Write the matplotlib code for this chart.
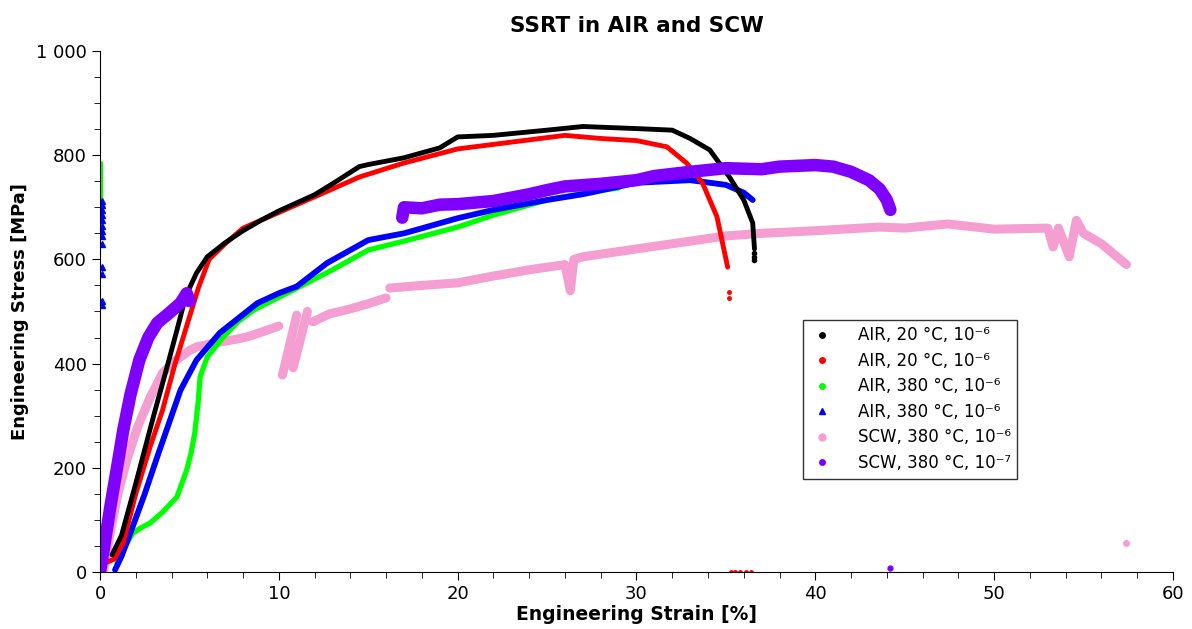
import numpy as np
import matplotlib
matplotlib.use("Agg")
import matplotlib.pyplot as plt
from matplotlib.lines import Line2D
from matplotlib.ticker import MultipleLocator, FuncFormatter

# AIR, 20 C (black)
black_x = [0.67, 1.2, 2.0, 3.0, 3.8, 4.3, 4.8, 5.4, 6.0, 7.0, 8.0, 9.0, 10.0, 12.0, 13.0, 14.5, 15.0,
           17.0, 19.0, 20.0, 22.0, 25.0, 27.0, 30.0, 32.0, 33.0, 34.1, 35.2, 36.0, 36.5, 36.6]
black_y = [33, 70, 170, 300, 400, 464, 530, 574, 605, 632, 655, 675, 693, 724, 745, 778, 782,
           795, 814, 835, 838, 848, 855, 851, 848, 832, 810, 758, 714, 670, 620]
black_tail_x = [36.6, 36.6, 36.6]
black_tail_y = [612, 605, 598]

# AIR, 20 C (red)
red_x = [0.4, 0.8, 1.3, 2.0, 2.8, 3.5, 4.2, 4.9, 5.5, 6.1, 7.0, 8.0, 10.0, 12.0, 14.5, 17.0, 20.0,
         23.0, 26.0, 28.0, 30.0, 31.7, 32.8, 33.7, 34.5, 35.1]
red_y = [19, 25, 56, 150, 240, 311, 400, 478, 545, 600, 630, 660, 690, 720, 758, 785, 812,
         825, 838, 832, 828, 816, 785, 746, 682, 585]
red_tail_x = [35.2, 35.2, 35.3, 35.5, 35.8, 36.1, 36.4]
red_tail_y = [537, 525, 0, 0, 0, 0, 0]

# AIR, 380 C (green)
green_x = [0.95, 1.4, 1.85, 2.3, 2.8, 3.5, 4.3, 4.85, 5.1, 5.3, 5.5, 5.6, 6.0, 6.9, 7.7, 8.6,
           10.8, 13.0, 15.0, 17.0, 20.0, 22.0, 25.0, 27.5, 29.0]
green_y = [17, 50, 75, 85, 94, 115, 144, 196, 230, 267, 330, 375, 413, 451, 480, 503,
           541, 580, 618, 635, 662, 685, 714, 730, 737]
green_spike_x = [0.08, 0.08]
green_spike_y = [690, 785]

# AIR, 380 C (blue)
blue_x = [0.84, 1.2, 1.7, 2.5, 3.2, 4.5, 5.4, 6.7, 8.8, 10.0, 11.0, 12.7, 15.0, 17.0, 20.0,
          22.0, 25.0, 27.0, 30.0, 33.0, 35.0, 36.0, 36.5]
blue_y = [4, 30, 75, 150, 221, 349, 407, 459, 516, 535, 548, 593, 637, 650, 679,
          695, 714, 725, 747, 752, 743, 728, 714]
blue_spike_x = [0.1] * 13
blue_spike_y = [512, 520, 572, 585, 630, 645, 655, 665, 675, 685, 695, 705, 712]

# SCW, 380 C, 1e-6 (pink), gaps as NaN
pink_x = [0.2, 0.4, 0.6, 1.0, 1.5, 2.1, 2.8, 3.5, 4.2, 5.0, 5.4, 6.5, 7.5, 8.2, 9.0, 10.0, np.nan,
          10.2, 11.0, np.nan, 10.8, 11.6, np.nan,
          11.9, 12.8, 14.0, 15.0, 16.0, np.nan,
          16.2, 18.0, 20.0, 22.0, 24.0, 26.0, 26.3, 26.5, 27.0, 30.0, 32.0, 35.0, 37.0, 40.0,
          43.6, 45.0, 47.4, 50.0, 53.0, 53.3, 53.6, 54.2, 54.6, 55.0, 56.0, 57.4]
pink_y = [0, 40, 80, 150, 215, 278, 335, 382, 405, 425, 432, 440, 446, 451, 460, 472, np.nan,
          378, 493, np.nan, 392, 500, np.nan,
          480, 495, 505, 515, 526, np.nan,
          545, 550, 555, 568, 580, 590, 540, 600, 605, 620, 630, 645, 650, 655,
          662, 660, 668, 658, 660, 624, 660, 605, 675, 650, 630, 590]
pink_dot_x = [57.4]
pink_dot_y = [55]

# SCW, 380 C, 1e-7 (purple)
purple_x = [0.0, 0.2, 0.6, 1.0, 1.3, 1.7, 2.2, 2.7, 3.2, 3.8, 4.5, 4.85, 5.0, np.nan,
            16.9, 17.0, 18.0, 19.0, 20.0, 22.0, 24.0, 25.0, 26.0, 28.0, 30.0, 31.0, 33.0, 35.0,
            37.0, 38.0, 40.0, 41.0, 42.0, 43.0, 43.6, 44.0, 44.2]
purple_y = [0, 42, 130, 210, 272, 340, 407, 450, 478, 495, 516, 535, 520, np.nan,
            680, 700, 698, 705, 706, 712, 725, 733, 740, 745, 752, 760, 768, 775,
            773, 778, 781, 778, 768, 752, 735, 714, 695]
purple_dot_x = [44.2]
purple_dot_y = [8]

labels = ["AIR, 20 °C, 10⁻⁶", "AIR, 20 °C, 10⁻⁶", "AIR, 380 °C, 10⁻⁶",
          "AIR, 380 °C, 10⁻⁶", "SCW, 380 °C, 10⁻⁶", "SCW, 380 °C, 10⁻⁷"]
colors = ["#000000", "#ff0000", "#00ff00", "#0000ff", "#f49ed2", "#7f00ff"]

plt.rcParams['font.family'] = ['DejaVu Sans']
fig = plt.figure(figsize=(11.92, 6.29), dpi=100)
ax = fig.add_axes([0.0839, 0.0906, 0.9001, 0.8284])

kw = dict(solid_capstyle='round', solid_joinstyle='round')
ax.plot(pink_x, pink_y, color=colors[4], lw=6.5, **kw)
ax.plot(pink_dot_x, pink_dot_y, 'o', color=colors[4], ms=4)
ax.plot(green_spike_x, green_spike_y, color=colors[2], lw=3, **kw)
ax.plot(green_x, green_y, color=colors[2], lw=3.8, **kw)
ax.plot(blue_x, blue_y, color=colors[3], lw=4.2, **kw)
ax.plot(blue_spike_x, blue_spike_y, '^', color=colors[3], ms=4)
ax.plot(red_x, red_y, color=colors[1], lw=3.5, **kw)
ax.plot(red_tail_x, red_tail_y, 'o', color=colors[1], ms=2.5)
ax.plot(black_x, black_y, color=colors[0], lw=3.5, **kw)
ax.plot(black_tail_x, black_tail_y, 'o', color=colors[0], ms=3)
ax.plot(purple_x, purple_y, color=colors[5], lw=9, **kw)
ax.plot(purple_dot_x, purple_dot_y, 'o', color=colors[5], ms=3.5)

ax.set_xlim(0, 60)
ax.set_ylim(0, 1000)
ax.xaxis.set_major_locator(MultipleLocator(10))
ax.xaxis.set_minor_locator(MultipleLocator(2))
ax.yaxis.set_major_locator(MultipleLocator(200))
ax.yaxis.set_minor_locator(MultipleLocator(50))
ax.yaxis.set_major_formatter(FuncFormatter(lambda v, p: f"{int(v):,}".replace(",", " ")))
for s in ['top', 'right']:
    ax.spines[s].set_visible(False)
ax.tick_params(which='major', length=6, labelsize=13, direction='out')
ax.tick_params(which='minor', length=4, direction='out')

ax.set_title("SSRT in AIR and SCW", fontsize=15.5, fontweight='bold', pad=14)
ax.set_xlabel("Engineering Strain [%]", fontsize=13.5, fontweight='bold', labelpad=1)
ax.set_ylabel("Engineering Stress [MPa]", fontsize=13, fontweight='bold')
ax.yaxis.set_label_coords(-0.066, 0.5)

markers = ['o', 'o', 'o', '^', 'o', 'o']
sizes = [4, 4, 4, 5, 5, 4]
handles = [Line2D([], [], ls='none', marker=m, color=c, ms=s) for m, c, s in zip(markers, colors, sizes)]
leg = ax.legend(handles, labels, loc='upper left', bbox_to_anchor=(0.655, 0.484), fontsize=12,
                frameon=True, fancybox=False, edgecolor='black', handletextpad=1.4,
                borderpad=0.4, labelspacing=0.45, borderaxespad=0, handlelength=1.5)
leg.get_frame().set_linewidth(1.0)

fig.savefig("out.png", dpi=100)
